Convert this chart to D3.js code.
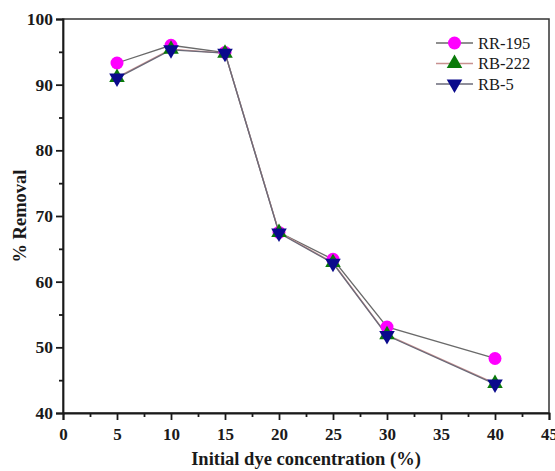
<!DOCTYPE html>
<html>
<head>
<meta charset="utf-8">
<script src="https://cdn.jsdelivr.net/npm/d3@7"></script>
<style>
  html, body { margin: 0; padding: 0; background: #fff; }
  svg { display: block; }
</style>
</head>
<body>
<script>
// Dye concentration (%) on the x axis
const concentration = [5, 10, 15, 20, 25, 30, 40];

// % removal for each dye
const rr195 = [93.3, 96.0, 94.9, 67.5, 63.4, 53.1, 48.3];
const rb222 = [91.1, 95.4, 94.8, 67.5, 62.9, 51.9, 44.5];
const rb5   = [91.0, 95.3, 94.8, 67.4, 62.8, 51.8, 44.4];

const seriesNames = ["RR-195", "RB-222", "RB-5"];

const xTicks = [0, 5, 10, 15, 20, 25, 30, 35, 40, 45];
const yTicks = [40, 50, 60, 70, 80, 90, 100];

const W = 555, H = 471;
const m = { left: 63, right: 6, top: 19, bottom: 58 };

const svg = d3.select("body").append("svg")
  .attr("width", W).attr("height", H);

const x = d3.scaleLinear().domain([0, 45]).range([m.left, W - m.right]);
const y = d3.scaleLinear().domain([40, 100]).range([H - m.bottom, m.top]);

const font = "'Liberation Serif', 'Times New Roman', serif";
const ink = "#1a1a1a";

// frame
svg.append("rect")
  .attr("x", x(0)).attr("y", y(100))
  .attr("width", x(45) - x(0)).attr("height", y(40) - y(100))
  .attr("fill", "none").attr("stroke", "#333").attr("stroke-width", 1.5);

// x axis with minor ticks
const xAxis = svg.append("g").attr("transform", `translate(0,${y(40)})`);
xAxis.call(d3.axisBottom(x).tickValues(d3.range(2.5, 45, 5)).tickSize(4).tickFormat(""))
  .call(g => g.select(".domain").remove());
xAxis.append("g").call(d3.axisBottom(x).tickValues(xTicks).tickSize(7).tickPadding(8).tickFormat(d3.format("d")))
  .call(g => g.select(".domain").attr("stroke", ink).attr("stroke-width", 1.8));
xAxis.selectAll("line").attr("stroke", ink).attr("stroke-width", 1.8);
xAxis.selectAll("text").attr("font-family", font).attr("font-weight", "bold")
  .attr("font-size", 17).attr("fill", ink);

// y axis with minor ticks
const yAxis = svg.append("g").attr("transform", `translate(${x(0)},0)`);
yAxis.call(d3.axisLeft(y).tickValues(d3.range(45, 100, 10)).tickSize(4).tickFormat(""))
  .call(g => g.select(".domain").remove());
yAxis.append("g").call(d3.axisLeft(y).tickValues(yTicks).tickSize(7).tickPadding(3).tickFormat(d3.format("d")))
  .call(g => g.select(".domain").attr("stroke", ink).attr("stroke-width", 1.8));
yAxis.selectAll("line").attr("stroke", ink).attr("stroke-width", 1.8);
yAxis.selectAll("text").attr("font-family", font).attr("font-weight", "bold")
  .attr("font-size", 17.5).attr("fill", ink);

// axis titles
svg.append("text")
  .attr("x", (x(0) + x(45)) / 2).attr("y", 465)
  .attr("text-anchor", "middle")
  .attr("font-family", font).attr("font-weight", "bold").attr("font-size", 18.5)
  .attr("fill", ink)
  .text("Initial dye concentration (%)");

svg.append("text")
  .attr("transform", `translate(26,${(y(40) + y(100)) / 2}) rotate(-90)`)
  .attr("text-anchor", "middle")
  .attr("font-family", font).attr("font-weight", "bold").attr("font-size", 18.5)
  .attr("fill", ink)
  .text("% Removal");

// series styling
const series = [
  { name: seriesNames[0], values: rr195, fill: "#ff00ff", line: "#6a6a6a", shape: "circle" },
  { name: seriesNames[1], values: rb222, fill: "#0a7a0a", line: "#c89090", shape: "up" },
  { name: seriesNames[2], values: rb5,   fill: "#0a0a8c", line: "#6a6a78", shape: "down" }
];

const line = d3.line()
  .x((d, i) => x(concentration[i]))
  .y(d => y(d));

function marker(sel, shape, cx, cy, fill) {
  if (shape === "circle") {
    sel.append("circle").attr("cx", cx).attr("cy", cy).attr("r", 6.5).attr("fill", fill);
  } else {
    const s = d3.symbol().type(d3.symbolTriangle).size(105)();
    sel.append("path").attr("d", s)
      .attr("transform", `translate(${cx},${cy})` + (shape === "down" ? " rotate(180)" : ""))
      .attr("fill", fill);
  }
}

// lines first, then markers on top
series.forEach(s => {
  svg.append("path").datum(s.values)
    .attr("d", line)
    .attr("fill", "none")
    .attr("stroke", s.line)
    .attr("stroke-width", 1.3);
});
series.forEach(s => {
  const g = svg.append("g");
  s.values.forEach((v, i) => marker(g, s.shape, x(concentration[i]), y(v), s.fill));
});

// legend
const lg = svg.append("g").attr("transform", "translate(436,43)");
series.forEach((s, i) => {
  const row = lg.append("g").attr("transform", `translate(0,${i * 20.5})`);
  row.append("line").attr("x1", 0).attr("x2", 37).attr("y1", 0).attr("y2", 0)
    .attr("stroke", s.line).attr("stroke-width", 1.3);
  marker(row, s.shape, 18.5, 0, s.fill);
  row.append("text").attr("x", 42).attr("y", 5.5)
    .attr("font-family", font).attr("font-size", 16.5).attr("fill", ink)
    .text(s.name);
});
</script>
</body>
</html>
